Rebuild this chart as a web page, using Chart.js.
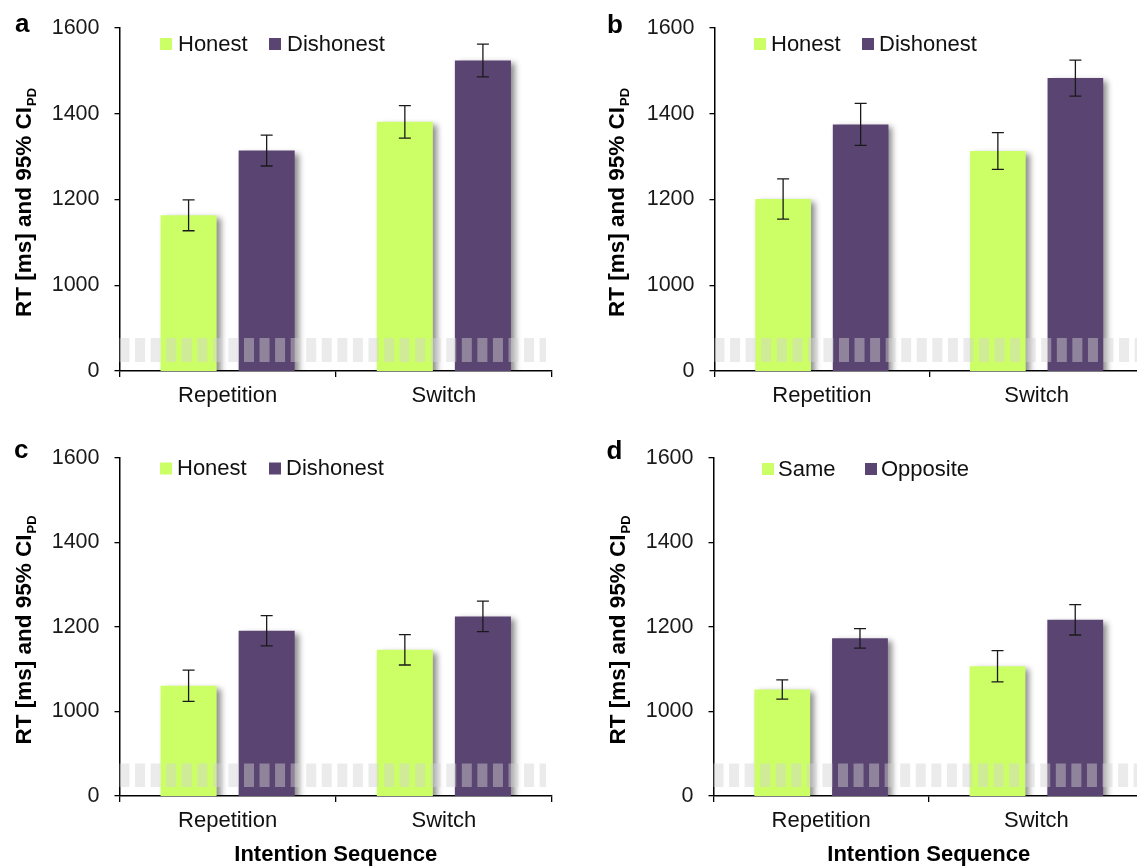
<!DOCTYPE html>
<html>
<head>
<meta charset="utf-8">
<script src="https://cdn.jsdelivr.net/npm/chart.js@4.4.1/dist/chart.umd.min.js"></script>
<style>
html, body { margin: 0; padding: 0; background: #ffffff; }
body { width: 1137px; height: 868px; position: relative; overflow: hidden; }
canvas { position: absolute; }
</style>
</head>
<body>
<canvas id="ca"></canvas>
<canvas id="cb"></canvas>
<canvas id="cc"></canvas>
<canvas id="cd"></canvas>
<script>
// ---------- data ----------
const categories = ['Repetition', 'Switch'];
const yTickValues = [800, 1000, 1200, 1400, 1600];
const yTickLabels = ['0', '1000', '1200', '1400', '1600'];
const yTitleMain = 'RT [ms] and 95% CI';
const yTitleSub = 'PD';
const xTitle = 'Intention Sequence';

const aLabels = ['Honest', 'Dishonest'];
const aHonest = [1163, 1381];
const aHonestCI = [36, 38];
const aDishonest = [1314, 1524];
const aDishonestCI = [36, 38];

const bLabels = ['Honest', 'Dishonest'];
const bHonest = [1201, 1313];
const bHonestCI = [47, 43];
const bDishonest = [1375, 1483];
const bDishonestCI = [49, 42];

const cLabels = ['Honest', 'Dishonest'];
const cHonest = [1061, 1146];
const cHonestCI = [37, 36];
const cDishonest = [1191, 1225];
const cDishonestCI = [36, 36];

const dLabels = ['Same', 'Opposite'];
const dSame = [1052, 1107];
const dSameCI = [23, 37];
const dOpposite = [1173, 1217];
const dOppositeCI = [23, 36];

// axis-break band, in axis units
const BAND_LOW = 821;
const BAND_HIGH = 877;

// ---------- style ----------
const GREEN = '#ccff66';
const PURPLE = '#5a4472';
const FONT = "'Liberation Sans', Arial, Helvetica, sans-serif";
Chart.defaults.font.family = FONT;

const panels = [
  { id: 'ca', letter: 'a', labels: aLabels,
    series: [[aHonest, aHonestCI], [aDishonest, aDishonestCI]],
    canvas: { x: 0, y: 0, w: 575, h: 430 }, area: { l: 119.5, r: 552, t: 23.5, b: 371 },
    letterPos: { x: 15, y: 32 }, titleX: 31, legendX: [160, 269], legendY: 38, legendDx: 18, showXTitle: false },
  { id: 'cb', letter: 'b', labels: bLabels,
    series: [[bHonest, bHonestCI], [bDishonest, bDishonestCI]],
    canvas: { x: 580, y: 0, w: 580, h: 430 }, area: { l: 714.5, r: 1144, t: 23.5, b: 371 },
    letterPos: { x: 607, y: 33 }, titleX: 624, legendX: [754, 862], legendY: 38, legendDx: 17, showXTitle: false },
  { id: 'cc', letter: 'c', labels: cLabels,
    series: [[cHonest, cHonestCI], [cDishonest, cDishonestCI]],
    canvas: { x: 0, y: 430, w: 575, h: 438 }, area: { l: 119.5, r: 552, t: 449, b: 796 },
    letterPos: { x: 14, y: 458 }, titleX: 31, legendX: [160, 269], legendY: 462.5, legendDx: 17, showXTitle: true },
  { id: 'cd', letter: 'd', labels: dLabels,
    series: [[dSame, dSameCI], [dOpposite, dOppositeCI]],
    canvas: { x: 580, y: 430, w: 580, h: 438 }, area: { l: 713.5, r: 1144, t: 449, b: 796 },
    letterPos: { x: 606.5, y: 459 }, titleX: 624.5, legendX: [762, 865], legendY: 463, legendDx: 16, showXTitle: true },
];

const decoPlugin = {
  id: 'deco',
  beforeDatasetsDraw(chart) {
    const ctx = chart.ctx;
    ctx.save();
    ctx.shadowColor = 'rgba(0,0,0,0.45)';
    ctx.shadowBlur = 6;
    ctx.shadowOffsetX = 4;
    ctx.shadowOffsetY = 3;
  },
  afterDatasetsDraw(chart) {
    const ctx = chart.ctx;
    ctx.restore();
    const ys = chart.scales.y;
    const area = chart.chartArea;
    // broken-axis band
    const yHi = ys.getPixelForValue(BAND_HIGH);
    const yLo = ys.getPixelForValue(BAND_LOW);
    ctx.save();
    ctx.strokeStyle = 'rgba(211,211,211,0.45)';
    ctx.lineWidth = yLo - yHi;
    ctx.lineCap = 'butt';
    ctx.setLineDash([10, 5.56]);
    ctx.beginPath();
    ctx.moveTo(area.left, (yHi + yLo) / 2);
    ctx.lineTo(area.right - 6, (yHi + yLo) / 2);
    ctx.stroke();
    ctx.restore();
    // error bars
    ctx.save();
    ctx.strokeStyle = '#1a1a1a';
    ctx.lineWidth = 1.3;
    chart.data.datasets.forEach((ds, di) => {
      const meta = chart.getDatasetMeta(di);
      meta.data.forEach((bar, i) => {
        const v = ds.data[i], ci = ds.ci[i];
        const top = ys.getPixelForValue(v + ci);
        const bot = ys.getPixelForValue(v - ci);
        const x = bar.x;
        ctx.beginPath();
        ctx.moveTo(x, top); ctx.lineTo(x, bot);
        ctx.moveTo(x - 6, top); ctx.lineTo(x + 6, top);
        ctx.moveTo(x - 6, bot); ctx.lineTo(x + 6, bot);
        ctx.stroke();
      });
    });
    ctx.restore();
  },
  afterDraw(chart) {
    const p = chart.options.plugins.deco.panel;
    const ctx = chart.ctx;
    const ox = p.canvas.x, oy = p.canvas.y;
    ctx.save();
    // panel letter
    ctx.fillStyle = '#000';
    ctx.font = `bold 26px ${FONT}`;
    ctx.textAlign = 'left';
    ctx.textBaseline = 'alphabetic';
    ctx.fillText(p.letter, p.letterPos.x - ox, p.letterPos.y - oy);
    // y title with subscript
    const area = chart.chartArea;
    const cy = (area.top + area.bottom) / 2 + 3;
    ctx.translate(p.titleX - ox, cy);
    ctx.rotate(-Math.PI / 2);
    ctx.font = `bold 22.5px ${FONT}`;
    const w1 = ctx.measureText(yTitleMain).width;
    ctx.font = `bold 13px ${FONT}`;
    const w2 = ctx.measureText(yTitleSub).width;
    const x0 = -(w1 + w2 + 1) / 2;
    ctx.font = `bold 22.5px ${FONT}`;
    ctx.fillText(yTitleMain, x0, 0);
    ctx.font = `bold 13px ${FONT}`;
    ctx.fillText(yTitleSub, x0 + w1 + 1, 5);
    ctx.restore();
    // legend
    ctx.save();
    ctx.font = `22px ${FONT}`;
    ctx.textAlign = 'left';
    ctx.textBaseline = 'alphabetic';
    chart.data.datasets.forEach((ds, di) => {
      const sx = p.legendX[di] - ox, sy = p.legendY - oy;
      ctx.fillStyle = ds.backgroundColor;
      ctx.fillRect(sx, sy, 12, 12);
      ctx.fillStyle = '#111';
      ctx.fillText(ds.label, sx + p.legendDx, sy + 12.7);
    });
    ctx.restore();
  }
};

panels.forEach(p => {
  const cv = document.getElementById(p.id);
  cv.width = p.canvas.w;
  cv.height = p.canvas.h;
  cv.style.left = p.canvas.x + 'px';
  cv.style.top = p.canvas.y + 'px';
  cv.style.width = p.canvas.w + 'px';
  cv.style.height = p.canvas.h + 'px';
  const colors = [GREEN, PURPLE];
  const yWidth = p.area.l - p.canvas.x;
  const xHeight = p.canvas.y + p.canvas.h - p.area.b;
  new Chart(cv, {
    type: 'bar',
    data: {
      labels: categories,
      datasets: p.series.map((s, i) => ({
        label: p.labels[i],
        data: s[0],
        ci: s[1],
        backgroundColor: colors[i],
        borderWidth: 0,
        categoryPercentage: 0.722,
        barPercentage: 0.718
      }))
    },
    options: {
      responsive: false,
      animation: false,
      devicePixelRatio: 1,
      layout: { padding: { left: 0, top: p.area.t - p.canvas.y, right: p.canvas.x + p.canvas.w - p.area.r, bottom: 0 } },
      plugins: {
        legend: { display: false },
        tooltip: { enabled: false },
        deco: { panel: p }
      },
      scales: {
        x: {
          z: 1,
          offset: true,
          grid: { display: true, offset: true, drawOnChartArea: false, drawTicks: true, tickLength: 6, color: '#000', lineWidth: 1.3 },
          border: { display: true, color: '#000', width: 1.5 },
          ticks: { color: '#111', font: { size: 22 }, padding: 6 },
          title: { display: p.showXTitle, text: xTitle, color: '#000', font: { size: 22, weight: 'bold' }, padding: { top: 0, bottom: 0 } },
          afterFit(scale) { scale.height = xHeight; }
        },
        y: {
          z: 1,
          min: 800,
          max: 1600,
          beginAtZero: false,
          grid: { display: true, drawOnChartArea: false, drawTicks: true, tickLength: 5, color: '#000', lineWidth: 1.3 },
          border: { display: true, color: '#000', width: 1.5 },
          ticks: {
            stepSize: 200,
            color: '#1a1a1a',
            font: { size: 21.5 },
            padding: 15,
            callback: (v) => { const i = yTickValues.indexOf(v); return i >= 0 ? yTickLabels[i] : ''; }
          },
          afterFit(scale) { scale.width = yWidth; }
        }
      }
    },
    plugins: [decoPlugin]
  });
});
</script>
</body>
</html>
